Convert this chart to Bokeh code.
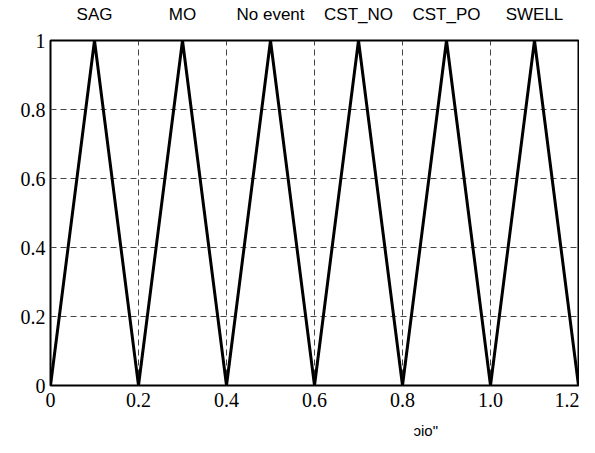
from bokeh.plotting import figure
from bokeh.models import Range1d, FixedTicker, LinearAxis, Title
from bokeh.embed import file_html
from bokeh.resources import INLINE

# Data
classes = ["SAG", "MO", "No event", "CST_NO", "CST_PO", "SWELL"]
peaks = [0.1, 0.3, 0.5, 0.7, 0.9, 1.1]
half_width = 0.1
x_ticks = [0, 0.2, 0.4, 0.6, 0.8, 1.0, 1.2]
x_tick_labels = ["0", "0.2", "0.4", "0.6", "0.8", "1.0", "1.2"]
y_ticks = [0, 0.2, 0.4, 0.6, 0.8, 1.0]
y_tick_labels = ["0", "0.2", "0.4", "0.6", "0.8", "1"]

p = figure(frame_width=528, frame_height=345, output_backend="svg", toolbar_location=None,
           x_range=Range1d(0, 1.2), y_range=Range1d(0, 1),
           x_axis_location=None, y_axis_location=None,
           min_border_left=50, min_border_right=1, min_border_top=40, min_border_bottom=10)

p.background_fill_color = "white"
p.outline_line_color = "black"
p.outline_line_width = 2

for c, pk in zip(classes, peaks):
    p.line([pk - half_width, pk, pk + half_width], [0, 1, 0], line_color="black", line_width=3)

# axes
xa = LinearAxis(ticker=FixedTicker(ticks=x_ticks),
                major_label_overrides={t: l for t, l in zip(x_ticks, x_tick_labels)})
ya = LinearAxis(ticker=FixedTicker(ticks=y_ticks),
                major_label_overrides={t: l for t, l in zip(y_ticks, y_tick_labels)})
for ax in (xa, ya):
    ax.axis_line_color = None
    ax.major_tick_line_color = "black"
    ax.major_tick_in = 0
    ax.major_tick_out = 0
    ax.minor_tick_line_color = None
    ax.major_label_text_font = "Liberation Serif"
    ax.major_label_text_font_size = "20px"
    ax.major_label_text_color = "black"
xa.major_label_standoff = 7
ya.major_label_standoff = 5
p.add_layout(xa, "below")
p.add_layout(ya, "left")

ta = LinearAxis(ticker=FixedTicker(ticks=peaks),
                major_label_overrides={t: l for t, l in zip(peaks, classes)})
ta.axis_line_color = None
ta.major_tick_line_color = None
ta.minor_tick_line_color = None
ta.major_label_text_font = "Liberation Sans"
ta.major_label_text_font_size = "17px"
ta.major_label_text_color = "black"
ta.major_label_standoff = 11
p.add_layout(ta, "above")

p.xgrid.ticker = FixedTicker(ticks=x_ticks[1:-1])
p.ygrid.ticker = FixedTicker(ticks=y_ticks[1:-1])
for g in (p.xgrid, p.ygrid):
    g.grid_line_color = "#444444"
    g.grid_line_dash = "6 4"
    g.grid_line_width = 1

p.add_layout(Title(text='ɔio"', align="left", offset=363, text_font="Liberation Sans",
                   text_font_size="15px", text_font_style="normal", text_color="black",
                   standoff=20), "below")

open("out.html", "w").write(file_html(p, INLINE))
